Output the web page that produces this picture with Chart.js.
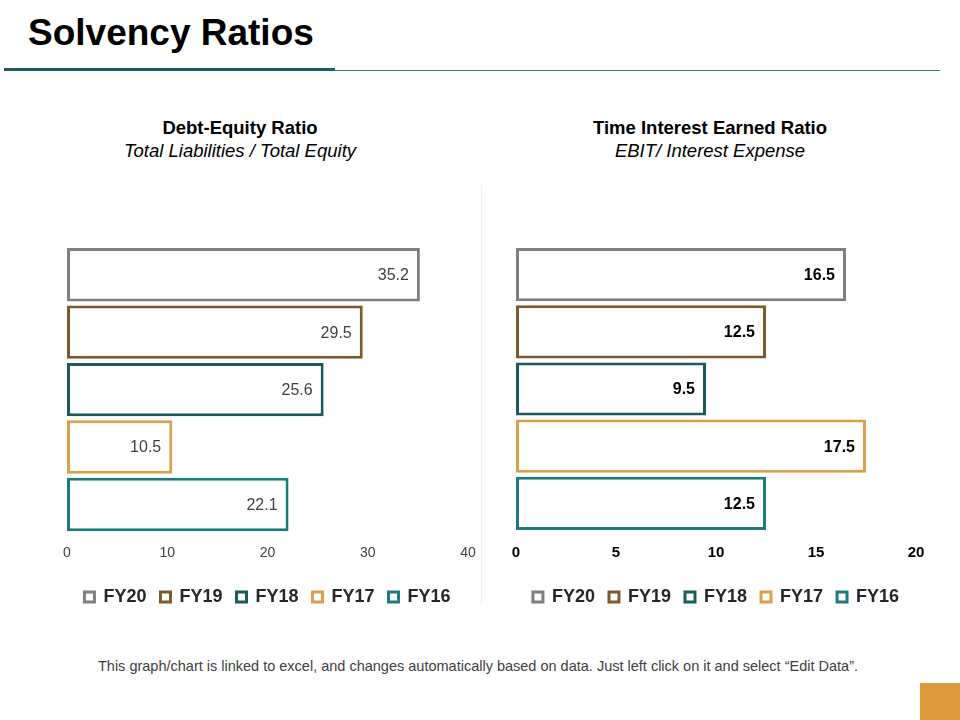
<!DOCTYPE html>
<html>
<head>
<meta charset="utf-8">
<script src="https://cdn.jsdelivr.net/npm/chart.js@4.4.1/dist/chart.umd.min.js"></script>
<style>
  html, body { margin: 0; padding: 0; background: #ffffff; }
  body { width: 960px; height: 720px; position: relative; overflow: hidden; font-family: "Liberation Sans", Arial, sans-serif; }
  .title { position: absolute; left: 28px; top: 12px; font-size: 37px; font-weight: bold; color: #000; }
  .rule-thick { position: absolute; left: 4px; top: 68px; width: 331px; height: 3px; background: #1d5d5d; }
  .rule-thin { position: absolute; left: 335px; top: 70px; width: 605px; height: 1px; background: #2b7b7b; }
  .head { position: absolute; width: 440px; text-align: center; color: #000; font-size: 18.5px; line-height: 23px; }
  .head b { display: block; }
  .head i { display: block; }
  .divider { position: absolute; left: 481px; top: 185px; width: 1px; height: 420px; background: #f0f0f0; }
  .chart-box { position: absolute; }
  .note { position: absolute; left: 0; width: 956px; top: 658px; text-align: center; font-size: 14.5px; color: #404040; }
  .corner { position: absolute; left: 920px; top: 683px; width: 40px; height: 37px; background: #dd9b3e; }
</style>
</head>
<body>
<div class="title">Solvency Ratios</div>
<div class="rule-thick"></div>
<div class="rule-thin"></div>

<div class="head" style="left:20px; top:116px;"><b>Debt-Equity Ratio</b><i>Total Liabilities / Total Equity</i></div>
<div class="head" style="left:490px; top:116px;"><b>Time Interest Earned Ratio</b><i>EBIT/ Interest Expense</i></div>

<div class="divider"></div>

<div class="chart-box" style="left:20px; top:226px; width:468px; height:390px;"><canvas id="debtChart"></canvas></div>
<div class="chart-box" style="left:490px; top:226px; width:450px; height:390px;"><canvas id="tieChart"></canvas></div>

<div class="note">This graph/chart is linked to excel, and changes automatically based on data. Just left click on it and select “Edit Data”.</div>
<div class="corner"></div>

<script>
// series names and colours, top bar first
const years = ['FY20', 'FY19', 'FY18', 'FY17', 'FY16'];
const yearColors = ['#7f7f7f', '#7b5b2b', '#1c5a5c', '#d9a04e', '#1f7b7b'];

// Debt-Equity Ratio values
const debtEquity = [35.2, 29.5, 25.6, 10.5, 22.1];
const debtTicks = [0, 10, 20, 30, 40];

// Time Interest Earned Ratio values
const timesInterest = [16.5, 12.5, 9.5, 17.5, 12.5];
const tieTicks = [0, 5, 10, 15, 20];

// value labels drawn just inside the end of each bar
const barValueLabels = {
    id: 'barValueLabels',
    afterDatasetsDraw(chart, args, opts) {
        const { ctx } = chart;
        ctx.save();
        ctx.font = opts.font;
        ctx.fillStyle = opts.color;
        ctx.textAlign = 'right';
        ctx.textBaseline = 'middle';
        chart.data.datasets.forEach((ds, i) => {
            const meta = chart.getDatasetMeta(i);
            meta.data.forEach((bar, j) => {
                ctx.fillText(ds.data[j].toFixed(1), bar.x - 11, bar.y + 1);
            });
        });
        ctx.restore();
    }
};

function makeChart(canvasId, values, ticks, bold, padding) {
    const tickFont = { family: 'Liberation Sans', size: bold ? 15 : 14, weight: bold ? 'bold' : 'normal' };
    return new Chart(document.getElementById(canvasId), {
        type: 'bar',
        plugins: [barValueLabels],
        data: {
            labels: [''],
            datasets: years.map((year, i) => ({
                label: year,
                data: [values[i]],
                backgroundColor: '#ffffff',
                borderColor: yearColors[i],
                borderWidth: 3,
                borderSkipped: false,
                barPercentage: 0.93,
                categoryPercentage: 1
            }))
        },
        options: {
            indexAxis: 'y',
            responsive: true,
            maintainAspectRatio: false,
            animation: false,
            layout: { padding: padding },
            scales: {
                x: {
                    min: ticks[0],
                    max: ticks[ticks.length - 1],
                    afterBuildTicks: (axis) => { axis.ticks = ticks.map((v) => ({ value: v })); },
                    grid: { display: false, drawTicks: false },
                    border: { display: false },
                    ticks: { padding: 12, color: bold ? '#000000' : '#404040', font: tickFont }
                },
                y: { display: false }
            },
            plugins: {
                tooltip: { enabled: false },
                legend: {
                    position: 'bottom',
                    labels: {
                        boxWidth: 10,
                        boxHeight: 10,
                        padding: 14,
                        color: '#262626',
                        font: { family: 'Liberation Sans', size: 18, weight: 'bold' }
                    }
                },
                barValueLabels: {
                    font: (bold ? 'bold ' : '') + '16px "Liberation Sans"',
                    color: bold ? '#000000' : '#404040'
                }
            }
        }
    });
}

makeChart('debtChart', debtEquity, debtTicks, false, { left: 47, right: 20, top: 20, bottom: 0 });
makeChart('tieChart', timesInterest, tieTicks, true, { left: 26, right: 24, top: 20, bottom: 0 });
</script>
</body>
</html>
